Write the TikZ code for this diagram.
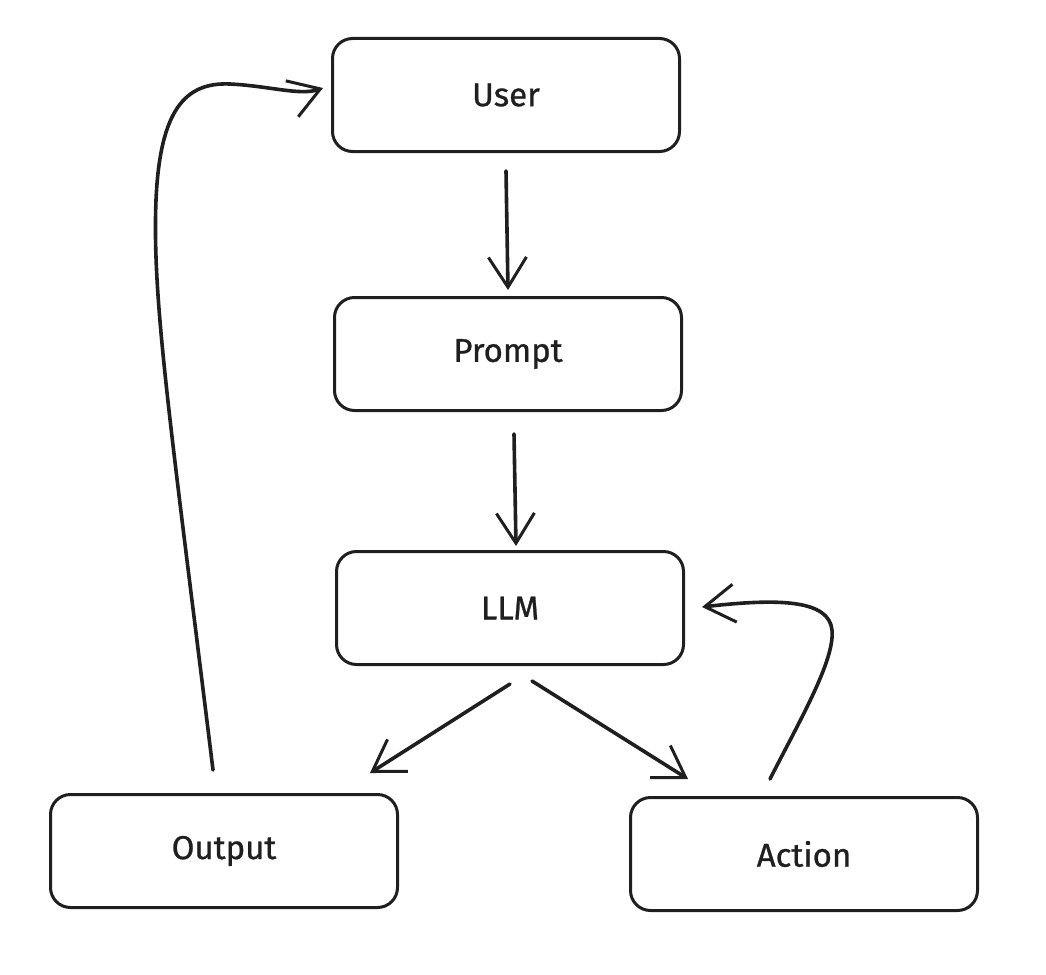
\documentclass[tikz,border=0pt]{standalone}
\usepackage{fontspec}
\setmainfont[FakeBold=0.8]{Fira Sans}
\usetikzlibrary{arrows.meta}
\begin{document}
\begin{tikzpicture}[x=1pt,y=-1pt,
  box/.style={draw=black!88, line width=3pt, rounded corners=20pt, minimum width=347pt, minimum height=113pt, inner sep=0pt, font=\fontsize{33}{38}\selectfont, text=black!88},
  conn/.style={draw=black!88, line width=3.6pt, line cap=round, -{Straight Barb[length=30pt,width=38pt,line width=3pt]}}]
\useasboundingbox (0,0) rectangle (1046,974);
\node[box] (user) at (506,95) {User};
\node[box] (prompt) at (508,354) {Prompt};
\node[box] (llm) at (510,608) {LLM};
\node[box] (output) at (224,851) {Output};
\node[box] (action) at (804,854) {Action};
\draw[conn] ([yshift=-18pt]user.south) -- ([yshift=6pt]prompt.north);
\draw[conn] ([xshift=6pt,yshift=-22pt]prompt.south) -- ([xshift=6pt,yshift=4pt]llm.north);
\draw[conn] ([yshift=-18pt]llm.south) -- ([xshift=146pt,yshift=20pt]output.north);
\draw[conn] ([xshift=22pt,yshift=-15pt]llm.south) -- ([xshift=-116pt,yshift=17pt]action.north);
\draw[conn] ([xshift=-34pt,yshift=17pt]action.north) .. controls (800,720) and (835,660) .. (832,630) .. controls (829,600) and (780,598) .. ([xshift=17pt,yshift=1pt]llm.east);
\draw[conn] ([xshift=-11pt,yshift=23pt]output.north) .. controls (170,420) and (152,300) .. (156,200) .. controls (160,110) and (185,82) .. (230,84) .. controls (270,86) and (300,96) .. ([xshift=-8pt,yshift=7pt]user.west);
\end{tikzpicture}
\end{document}
